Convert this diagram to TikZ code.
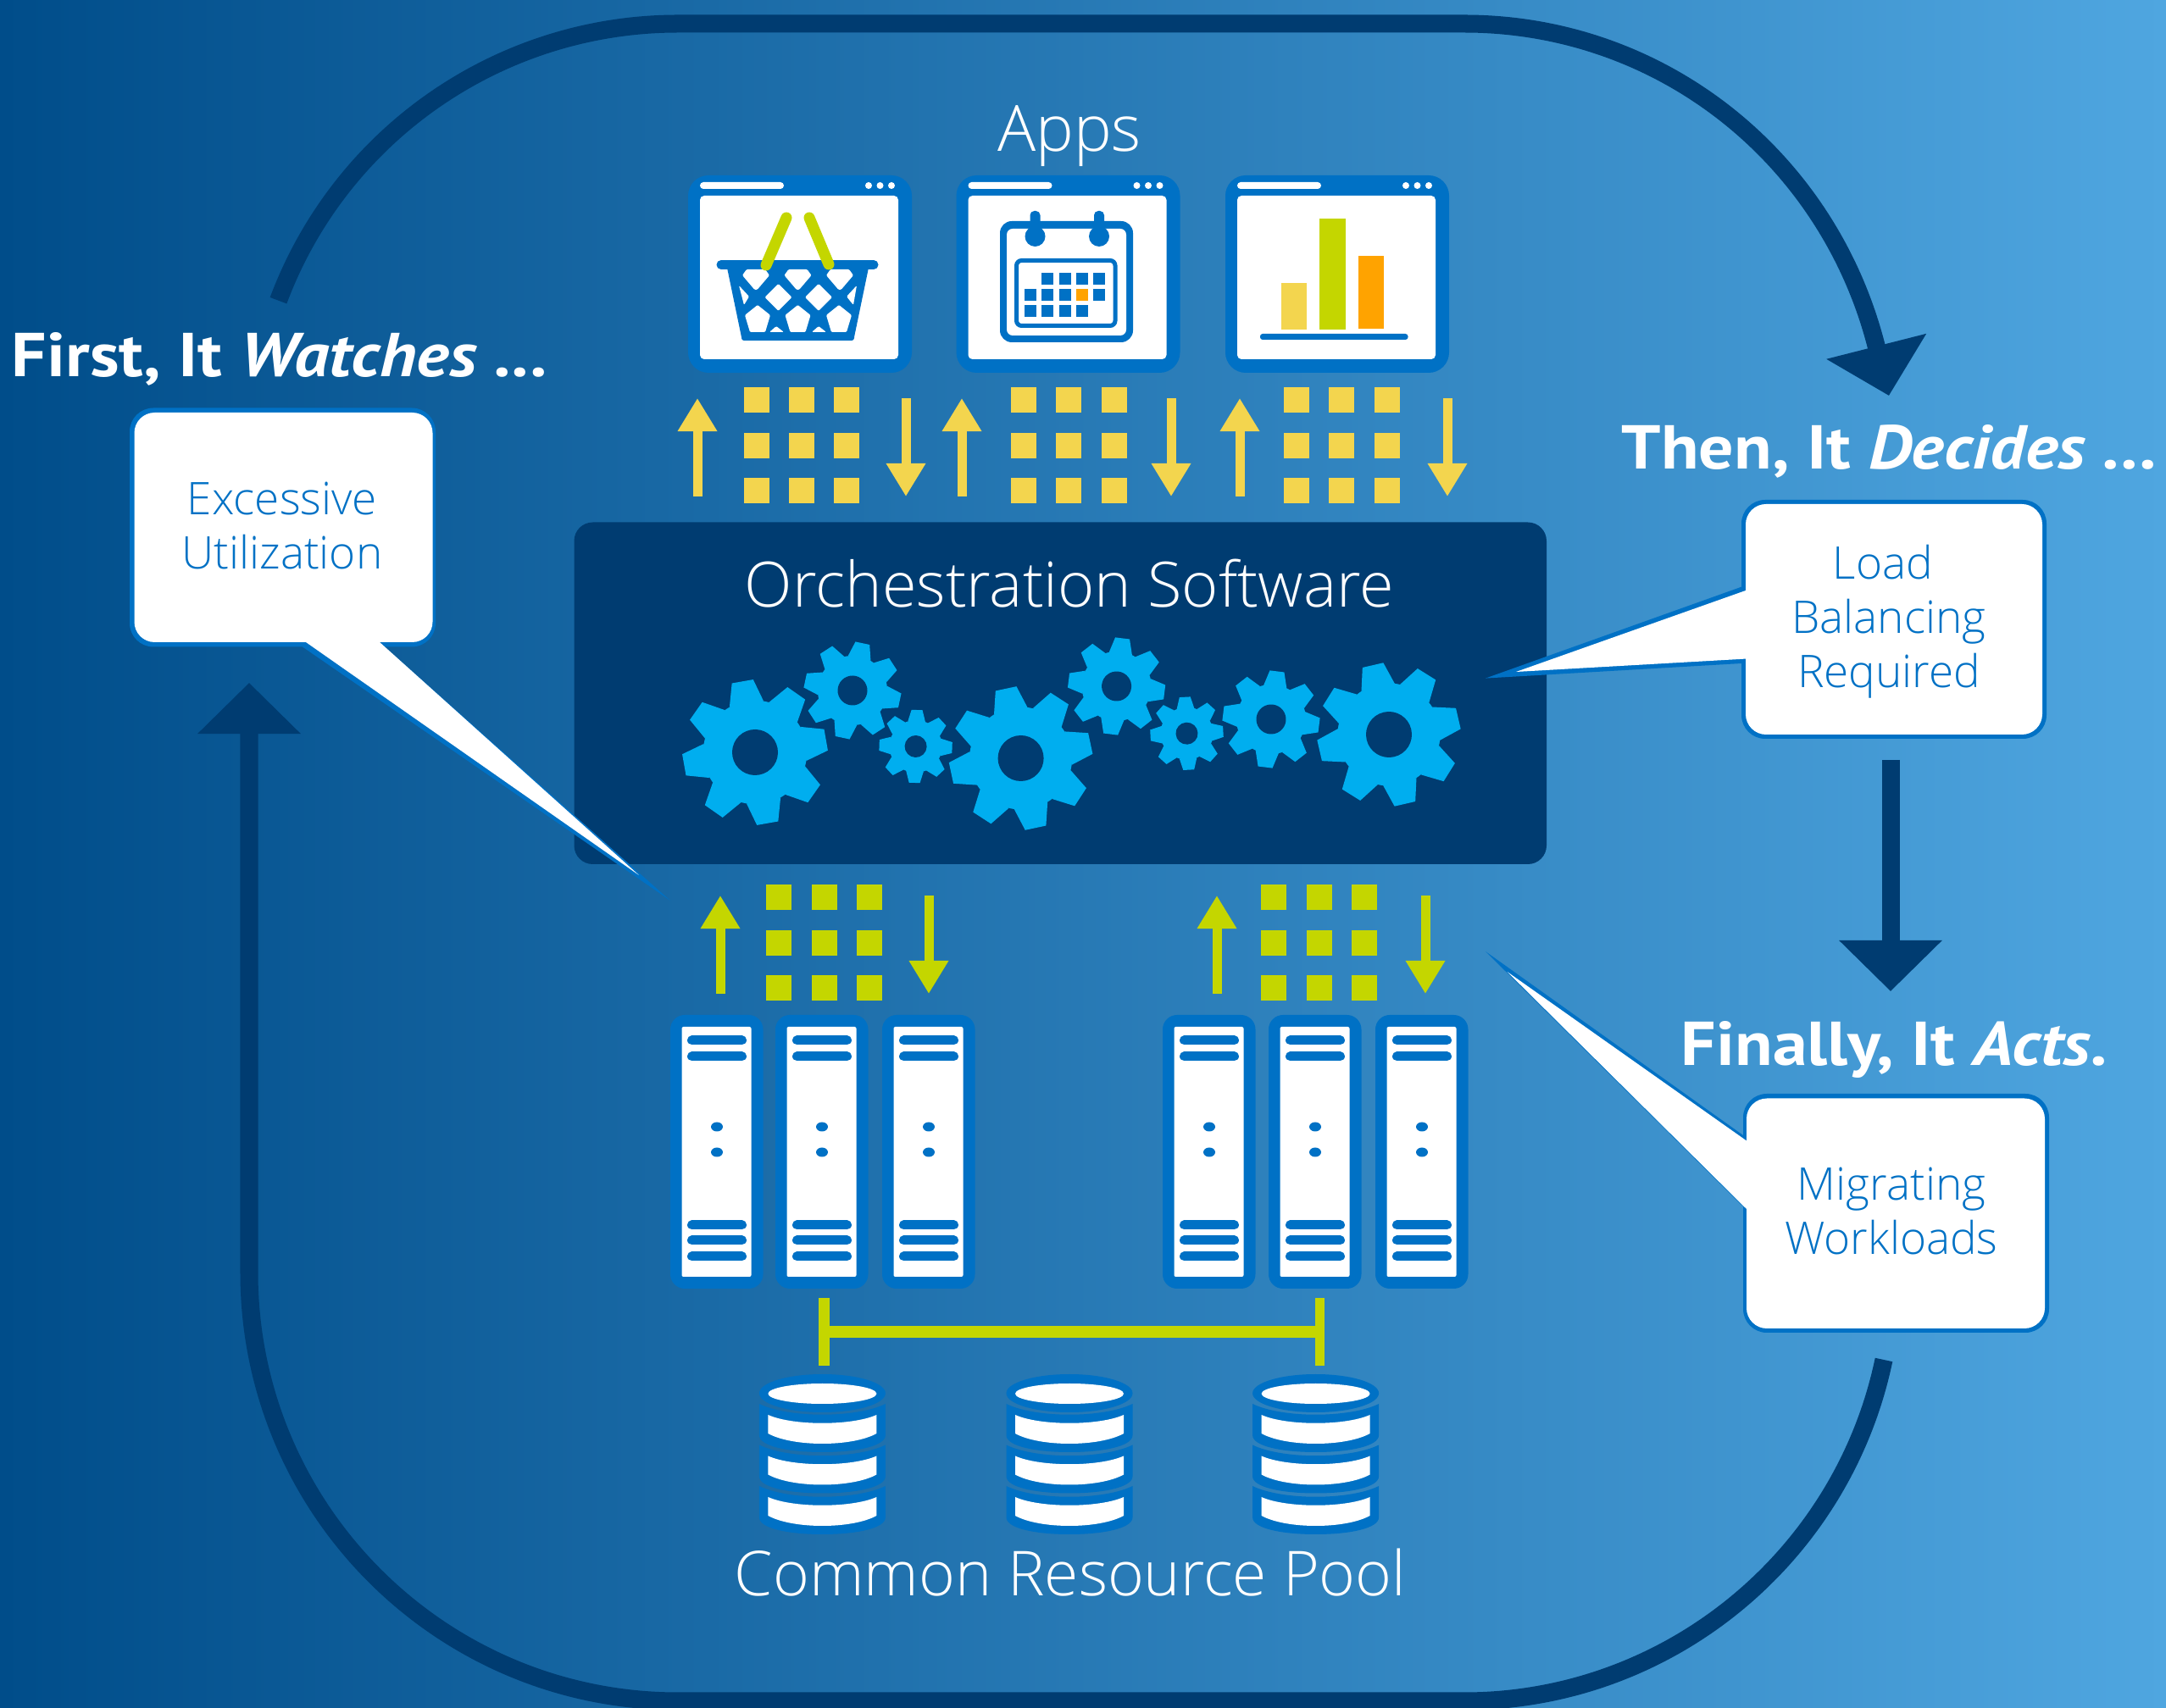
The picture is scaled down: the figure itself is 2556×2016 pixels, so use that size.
\documentclass[tikz,border=0pt]{standalone}
\usepackage{fontspec}
\usetikzlibrary{arrows.meta}
\newfontfamily\lightFont{Open Sans Light}
\newfontfamily\headFont{PT Sans}[FakeStretch=1.12]
\definecolor{bgLeft}{HTML}{004D8A}
\definecolor{bgRight}{HTML}{4FA6E0}
\definecolor{navyBlue}{HTML}{003C71}
\definecolor{lineBlue}{HTML}{0071C5}
\definecolor{gearBlue}{HTML}{00AEEF}
\definecolor{sunYellow}{HTML}{F3D54E}
\definecolor{limeGreen}{HTML}{C4D600}
\definecolor{tipOrange}{HTML}{FFA300}
%% One application window, #1 is its left edge.
\newcommand{\appWindow}[1]{%
  \fill[lineBlue,rounded corners=0.24cm] (#1,207) rectangle (#1+264,440);
  \fill[white,rounded corners=0.05cm] (#1+14,231) rectangle (#1+248,424);
  \fill[white,rounded corners=0.04cm] (#1+14,215) rectangle (#1+113,223);
  \foreach \dotx in {213,226.5,240}
    \fill[white] (#1+\dotx,219) circle[radius=4];
}
%% Up arrow, three rows of squares, down arrow.
\newcommand{\dataGroup}[6]{%
  \coordinate (upLow#1) at (#1,#6+129);
  \coordinate (upHigh#1) at (#1,#6+13);
  \coordinate (downHigh#5) at (#5,#6+13);
  \coordinate (downLow#5) at (#5,#6+129);
  \draw[flowArrow] (upLow#1) -- (upHigh#1);
  \draw[flowArrow] (downHigh#5) -- (downLow#5);
  \foreach \cellx in {#2,#3,#4}
    \foreach \celly in {0,54,107}
      \fill (\cellx,#6+\celly) rectangle ++(30,30);
}
%% One server, #1 is its left edge.
\newcommand{\serverRack}[1]{%
  \fill[lineBlue,rounded corners=0.17cm] (#1,1198) rectangle (#1+109.5,1521);
  \fill[white,rounded corners=0.02cm] (#1+13.5,1212) rectangle (#1+95.5,1507);
  \foreach \bary in {1228,1247,1446,1464,1483}
    \draw[rackBar] (#1+25.5,\bary) -- (#1+84.5,\bary);
  \foreach \dotr in {1330,1360}
    \fill[lineBlue] (#1+55,\dotr) ellipse[x radius=7,y radius=5.5];
}
%% One storage cylinder, #1 is its centre.
\newcommand{\dbStack}[1]{%
  \foreach \segy in {1754,1705.5,1657} {%
    \fill[lineBlue] (#1-74.5,\segy) .. controls (#1-40,\segy+17) and (#1+40,\segy+17) .. (#1+74.5,\segy)
      -- (#1+74.5,\segy+37) .. controls (#1+74.5,\segy+50) and (#1+40,\segy+57) .. (#1,\segy+57)
      .. controls (#1-40,\segy+57) and (#1-74.5,\segy+50) .. (#1-74.5,\segy+37) -- cycle;
    \fill[white] (#1-64,\segy+13) .. controls (#1-35,\segy+26) and (#1+35,\segy+26) .. (#1+64,\segy+13)
      -- (#1+64,\segy+35) .. controls (#1+35,\segy+51) and (#1-35,\segy+51) .. (#1-64,\segy+35) -- cycle;
  }
  \fill[lineBlue] (#1,1644.5) ellipse[x radius=74.5,y radius=22.5];
  \fill[white] (#1,1645) ellipse[x radius=64,y radius=12];
}
%% One gear: centre, outer radius, rotation, hole radius.
\newcommand{\gearWheel}[5]{%
  \begin{scope}[shift={(#1,#2)},rotate=#4]
    \fill[gearBlue] (0,0) circle[radius=#3*0.72];
    \foreach \tooth in {0,45,...,315}
      \fill[gearBlue,rotate=\tooth] (#3*0.68,-#3*0.24) -- (#3,-#3*0.15) -- (#3,#3*0.15) -- (#3*0.68,#3*0.24) -- cycle;
    \fill[navyBlue] (0,0) circle[radius=#5];
  \end{scope}
}

\begin{document}
\begin{tikzpicture}[x=0.01cm,y=-0.01cm,%%
  loopArrow/.style={navyBlue,line width=0.21cm},%%
  bigHead/.style={-{Triangle[length=0.6cm,width=1.18cm]}},%%
  flowArrow/.style={line width=0.11cm,-{Triangle[length=0.39cm,width=0.44cm]}},%%
  rackBar/.style={lineBlue,line width=0.11cm,line cap=round},%%
  basketCell/.style={white,rounded corners=0.012cm},%%
  lightLabel/.style={white,anchor=base,font=\lightFont\fontsize{20.8}{25}\selectfont},%%
  headLabel/.style={white,anchor=base west,inner sep=0pt,font=\headFont\bfseries\fontsize{20.8}{25}\selectfont},%%
  calloutText/.style={lineBlue,anchor=base,align=center,inner sep=0pt,font=\lightFont\fontsize{15.1}{18.2}\selectfont}%%
]
\useasboundingbox (0,0) rectangle (2556,2016);
\shade[left color=bgLeft,right color=bgRight] (0,0) rectangle (2556,2016);
%%
%% The big loop.
\coordinate (loopOneStart) at (328.5,354.7);
\coordinate (loopOneEnd) at (2229,467);
\coordinate (loopTwoStart) at (2223,1605);
\coordinate (loopTwoEnd) at (294,806);
\coordinate (stepStart) at (2231,897);
\coordinate (stepEnd) at (2231,1170);
\draw[loopArrow,bigHead] (loopOneStart) .. controls (402,158) and (590,28) .. (800,28)
  -- (1728,28) .. controls (1959,28) and (2156.5,184.4) .. (2214,408) -- (loopOneEnd);
\draw[loopArrow,bigHead] (loopTwoStart) .. controls (2174,1839) and (1967.5,2008) .. (1728,2008)
  -- (800,2008) .. controls (520.5,2008) and (294,1781.5) .. (294,1502) -- (loopTwoEnd);
\draw[loopArrow,bigHead] (stepStart) -- (stepEnd);
%%
%% The middle box and its gears.
\fill[navyBlue,rounded corners=0.22cm] (677.5,616.5) rectangle (1825,1020);
\gearWheel{891}{888}{85}{10}{27}
\gearWheel{1006}{815}{57}{33}{17.5}
\gearWheel{1080.6}{881}{43}{43}{13}
\gearWheel{1204.6}{895}{84}{12}{27}
\gearWheel{1317.6}{810}{57}{38}{17.5}
\gearWheel{1400.5}{865.7}{43}{3}{13}
\gearWheel{1500}{849}{57}{38}{17.5}
\gearWheel{1639}{867}{84}{13}{27}
%%
%% The windows.
\appWindow{812}
\appWindow{1128.5}
\appWindow{1446}
%% Basket.
\draw[lineBlue,line width=0.11cm,line cap=round] (851,312.5) -- (1031,312.5);
\fill[lineBlue] (858,316) -- (1025,316) -- (1008,398) [rounded corners=0.03cm] -- (1008,402) -- (875,402) [sharp corners] -- (875,398) -- cycle;
\foreach \cellx in {892,941.5,991}
  \fill[basketCell] (\cellx-11,318) -- (\cellx+11,318) -- (\cellx+16,325) -- (\cellx+1.5,342) -- (\cellx-1.5,342) -- (\cellx-16,325) -- cycle;
\foreach \cellx in {918.5,966}
  \fill[basketCell] (\cellx,335) -- (\cellx+16,351) -- (\cellx,367) -- (\cellx-16,351) -- cycle;
\foreach \cellx in {894,941.5,990}
  \fill[basketCell] (\cellx,360) -- (\cellx+15,372) -- (\cellx+9,392) -- (\cellx-9,392) -- (\cellx-15,372) -- cycle;
\fill[basketCell] (872,337) -- (884,350) -- (878,360) -- cycle;
\fill[basketCell] (1011,337) -- (999,350) -- (1007,360) -- cycle;
\fill[basketCell] (916,385) -- (908,392) -- (925,392) -- cycle;
\fill[basketCell] (966,385) -- (958,392) -- (975,392) -- cycle;
\draw[limeGreen,line width=0.13cm,line cap=round] (928,257) -- (904,313);
\draw[limeGreen,line width=0.13cm,line cap=round] (955,257) -- (978,312);
%% Calendar.
\fill[lineBlue,rounded corners=0.14cm] (1180,261) rectangle (1337,404);
\fill[white,rounded corners=0.07cm] (1188,270) rectangle (1329,396);
\draw[lineBlue,line width=0.05cm,rounded corners=0.06cm] (1199.5,307.5) rectangle (1316,384.5);
\foreach \ringx in {1221.5,1297} {
  \fill[lineBlue,rounded corners=0.05cm] (\ringx-6,249) rectangle (\ringx+6,280);
  \fill[lineBlue] (\ringx,279) circle[radius=12];
}
\foreach \datex/\datey in {1236/329,1257/329,1277/329,1297/329,1216/348,1236/348,1257/348,1297/348,1216/367,1236/367,1257/367,1277/367}
  \fill[lineBlue] (\datex-7,\datey-7) rectangle (\datex+7,\datey+7);
\fill[tipOrange] (1270,341) rectangle (1284,355);
%% Chart.
\fill[sunYellow] (1512,334) rectangle (1542,389.5);
\fill[limeGreen] (1557,258) rectangle (1588,389);
\fill[tipOrange] (1603,302) rectangle (1633,388);
\fill[lineBlue,rounded corners=0.03cm] (1487,394) rectangle (1661.5,401);
%%
%% Data between the layers.
\begin{scope}[sunYellow,fill=sunYellow]
\dataGroup{823}{878}{931}{984}{1069}{457}
\dataGroup{1135}{1192.5}{1246}{1299.5}{1382}{457}
\dataGroup{1463}{1515}{1568}{1622}{1708}{457}
\end{scope}
\begin{scope}[limeGreen,fill=limeGreen]
\dataGroup{850}{904}{958}{1011}{1096}{1044}
\dataGroup{1436}{1488}{1542}{1595}{1682}{1044}
\end{scope}
%%
%% The servers.
\foreach \rackx in {791,915,1041,1372,1497,1623}
  \serverRack{\rackx}
%%
%% The link and the storage.
\fill[limeGreen] (966,1532) rectangle (978.5,1612);
\fill[limeGreen] (1551.5,1532) rectangle (1563,1612);
\fill[limeGreen] (978,1565) rectangle (1552,1579);
\dbStack{970.4}
\dbStack{1262}
\dbStack{1552.6}
%%
%% Callouts.
\fill[lineBlue,rounded corners=0.28cm] (153,481.5) -- (514,481.5) -- (514,763.5) [sharp corners] -- (454,763.5) -- (791,1063) -- (357,763.5) [rounded corners=0.28cm] -- (153,763.5) -- cycle;
\fill[white,rounded corners=0.24cm] (158.5,487) -- (510.5,487) -- (510.5,758) [sharp corners] -- (448,758) -- (754,1033) -- (361,758) [rounded corners=0.24cm] -- (158.5,758) -- cycle;
\fill[lineBlue,rounded corners=0.28cm] (2055,590) -- (2415,590) -- (2415,872) -- (2055,872) [sharp corners] -- (2055,783) -- (1753,800.6) -- (2055,692.7) [rounded corners=0.28cm] -- cycle;
\fill[white,rounded corners=0.24cm] (2060,595) -- (2410,595) -- (2410,867) -- (2060,867) [sharp corners] -- (2060,777.6) -- (1789,793) -- (2060,697) [rounded corners=0.24cm] -- cycle;
\fill[lineBlue,rounded corners=0.28cm] (2057,1291) -- (2418,1291) -- (2418,1573) -- (2057,1573) [sharp corners] -- (2057,1424) -- (1753,1123) -- (2057,1340) [rounded corners=0.28cm] -- cycle;
\fill[white,rounded corners=0.24cm] (2061,1296.5) -- (2413,1296.5) -- (2413,1568) -- (2061,1568) [sharp corners] -- (2061,1427) -- (1778.6,1147) -- (2061,1346.5) [rounded corners=0.24cm] -- cycle;
%%
%% The texts.
\node[lightLabel,font=\lightFont\fontsize{21.4}{25}\selectfont] (appsLabel) at (1262,179) {Apps};
\node[lightLabel,font=\lightFont\fontsize{21}{25}\selectfont] (softwareLabel) at (1262,717) {Orchestration Software};
\node[lightLabel] (poolLabel) at (1263,1883) {Common Resource Pool};
\node[headLabel] (watchLabel) at (13,445) {First, It \textit{Watches ...}};
\node[headLabel] (decideLabel) at (1913,554) {Then, It \textit{Decides ...}};
\node[headLabel] (actLabel) at (1983,1258) {Finally, It \textit{Acts.}};
\node[calloutText] (excessLabel) at (333,672) {Excessive\\Utilization};
\node[calloutText] (balanceLabel) at (2229,812) {Load\hspace*{0.14cm}\\Balancing\\Required};
\node[calloutText] (migrateLabel) at (2232,1481) {Migrating\\Workloads};
\end{tikzpicture}
\end{document}
